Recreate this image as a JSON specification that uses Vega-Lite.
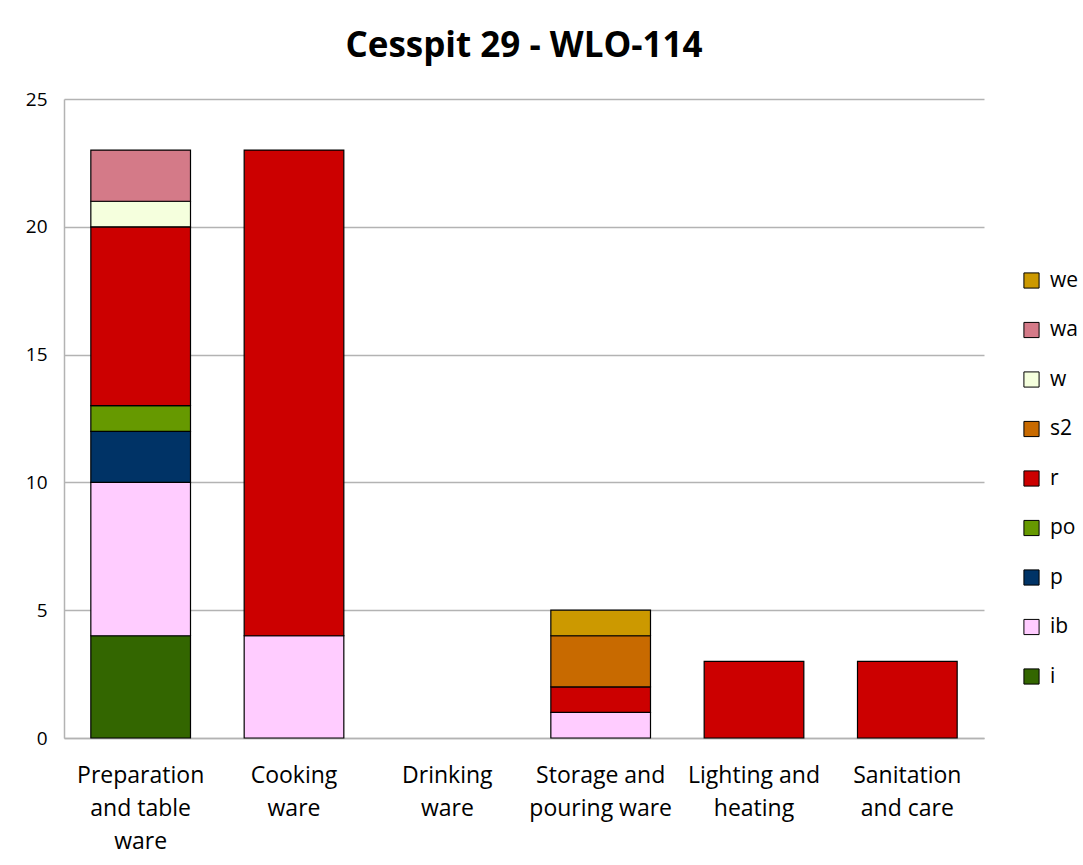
{
  "$schema": "https://vega.github.io/schema/vega-lite/v6.json",
  "width": 920,
  "height": 639,
  "padding": {"left": 25, "top": 29, "right": 10, "bottom": 6},
  "background": "white",
  "title": {"text": "Cesspit 29 - WLO-114", "font": "Open Sans", "fontSize": 35, "fontWeight": "bold", "color": "black", "offset": 26, "anchor": "middle"},
  "data": {"values": [
    {"category": "Preparation and table ware", "type": "i", "count": 4},
    {"category": "Preparation and table ware", "type": "ib", "count": 6},
    {"category": "Preparation and table ware", "type": "p", "count": 2},
    {"category": "Preparation and table ware", "type": "po", "count": 1},
    {"category": "Preparation and table ware", "type": "r", "count": 7},
    {"category": "Preparation and table ware", "type": "w", "count": 1},
    {"category": "Preparation and table ware", "type": "wa", "count": 2},
    {"category": "Cooking ware", "type": "ib", "count": 4},
    {"category": "Cooking ware", "type": "r", "count": 19},
    {"category": "Storage and pouring ware", "type": "ib", "count": 1},
    {"category": "Storage and pouring ware", "type": "r", "count": 1},
    {"category": "Storage and pouring ware", "type": "s2", "count": 2},
    {"category": "Storage and pouring ware", "type": "we", "count": 1},
    {"category": "Lighting and heating", "type": "r", "count": 3},
    {"category": "Sanitation and care", "type": "r", "count": 3}
  ]},
  "mark": {"type": "bar", "stroke": "black", "strokeWidth": 1.2},
  "encoding": {
    "x": {
      "field": "category", "type": "nominal",
      "scale": {"domain": ["Preparation and table ware", "Cooking ware", "Drinking ware", "Storage and pouring ware", "Lighting and heating", "Sanitation and care"], "paddingInner": 0.35, "paddingOuter": 0.175},
      "axis": {
        "title": null, "labelAngle": 0, "labelFont": "Open Sans", "labelFontSize": 23, "labelColor": "black",
        "labelLineHeight": 33, "labelPadding": 26, "ticks": false, "domain": true, "domainColor": "#b3b3b3", "domainWidth": 1.5,
        "labelExpr": "datum.value == 'Preparation and table ware' ? ['Preparation', 'and table', 'ware'] : datum.value == 'Cooking ware' ? ['Cooking', 'ware'] : datum.value == 'Drinking ware' ? ['Drinking', 'ware'] : datum.value == 'Storage and pouring ware' ? ['Storage and', 'pouring ware'] : datum.value == 'Lighting and heating' ? ['Lighting and', 'heating'] : ['Sanitation', 'and care']"
      }
    },
    "y": {
      "field": "count", "type": "quantitative", "aggregate": "sum", "stack": "zero",
      "scale": {"domain": [0, 25], "nice": false},
      "axis": {
        "title": null, "values": [0, 5, 10, 15, 20, 25], "labelFont": "Open Sans", "labelFontSize": 19, "labelColor": "black",
        "labelPadding": 17, "ticks": false, "grid": true, "gridColor": "#b3b3b3", "gridWidth": 1.5,
        "domain": true, "domainColor": "#b3b3b3", "domainWidth": 1.5
      }
    },
    "color": {
      "field": "type", "type": "nominal",
      "scale": {
        "domain": ["we", "wa", "w", "s2", "r", "po", "p", "ib", "i"],
        "range": ["#CC9900", "#D47A88", "#F5FFDD", "#C86A00", "#CC0000", "#669900", "#003366", "#FFCCFF", "#336600"]
      },
      "legend": {
        "title": null, "orient": "none", "legendX": 957, "legendY": 171,
        "symbolType": "square", "symbolSize": 230, "symbolStrokeColor": "black", "symbolStrokeWidth": 1,
        "labelFont": "Open Sans", "labelFontSize": 21, "labelColor": "black", "rowPadding": 27.5, "labelOffset": 8
      }
    },
    "order": {"field": "type", "sort": "ascending"}
  },
  "config": {"view": {"stroke": null}}
}
